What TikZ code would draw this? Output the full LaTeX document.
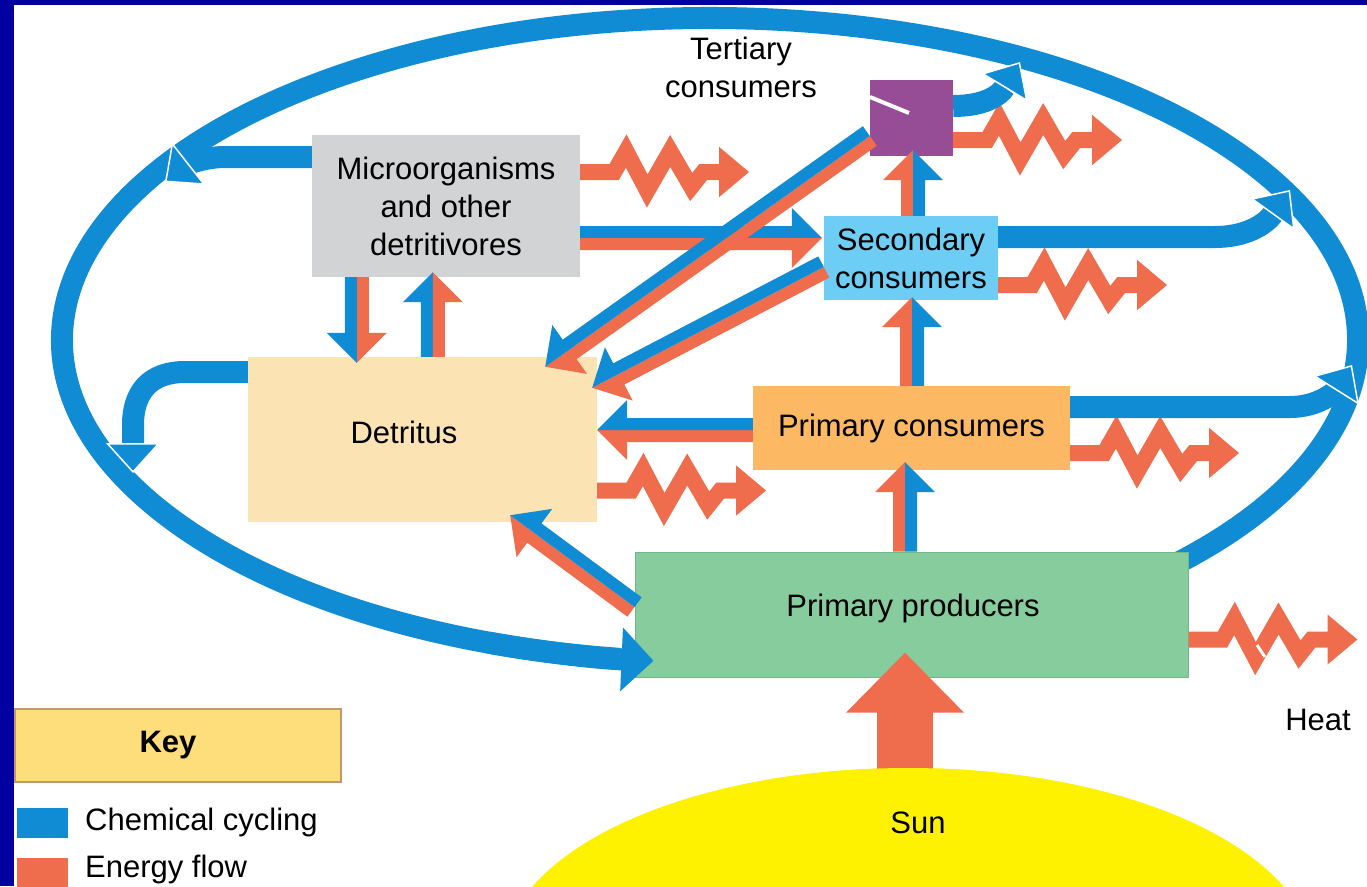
\documentclass[tikz,border=0pt]{standalone}
\usepackage{fontspec}
\setmainfont{Liberation Sans}
\usetikzlibrary{arrows.meta,calc,shapes.geometric}
\definecolor{navy}{RGB}{0,0,160}
\definecolor{chem}{RGB}{16,140,212}
\definecolor{enrg}{RGB}{239,108,77}
\definecolor{microc}{RGB}{209,211,212}
\definecolor{detc}{RGB}{252,227,180}
\definecolor{pconc}{RGB}{253,184,99}
\definecolor{secc}{RGB}{109,205,244}
\definecolor{terc}{RGB}{151,76,150}
\definecolor{prodc}{RGB}{134,204,156}
\definecolor{prodb}{RGB}{110,185,135}
\definecolor{keyc}{RGB}{253,222,122}
\definecolor{keyb}{RGB}{196,152,110}
\definecolor{sunc}{RGB}{255,242,0}
\tikzset{
  box/.style={draw=none, inner sep=0pt, align=center},
  ring/.style={draw=chem, line width=22pt},
  cyc/.style={draw=chem, line width=22pt, -{Triangle[length=30pt,width=54pt,color=white,fill=chem,line width=1.5pt]}},
  zz/.style={draw=enrg, line width=16pt, line join=miter, miter limit=10, -{Triangle[length=30pt,width=48pt]}},
  sunarrow/.style={draw=enrg, line width=56pt, -{Triangle[length=60pt,width=114pt]}},
  txt/.style={inner sep=0pt, align=center}
}
% dual arrow: #1 start, #2 tip, #3 colour on left side, #4 colour on right side
\newcommand{\duo}[4]{%
  \coordinate (duoA) at (#1);
  \coordinate (duoB) at (#2);
  \coordinate (duoC) at ($(duoB)!30pt!(duoA)$);
  \fill[#3] (duoA) -- ($(duoA)!12pt!90:(duoB)$) -- ($(duoC)!12pt!90:(duoB)$) -- ($(duoC)!30pt!90:(duoB)$) -- (duoB) -- cycle;
  \fill[#4] (duoA) -- ($(duoA)!12pt!-90:(duoB)$) -- ($(duoC)!12pt!-90:(duoB)$) -- ($(duoC)!30pt!-90:(duoB)$) -- (duoB) -- cycle;
}
\newcommand{\zig}[1]{\draw[zz] (#1) -- ++(34,0) -- ++(12,-21) -- ++(21,40) -- ++(23,-40) -- ++(21,36) -- ++(12,-15) -- ++(46,0);}
\begin{document}
\begin{tikzpicture}[x=1pt,y=-1pt, every node/.style={font=\fontsize{31}{38}\selectfont}]
\useasboundingbox (0,0) rectangle (1367,886);
\fill[navy] (0,0) rectangle (1367,886);
\fill[white] (14,5) rectangle (1367,886);

% ring (chemical cycling loop)
\coordinate (ringc) at (710,340);
\draw[ring] (ringc) ++(-55:648pt and 322pt) arc[start angle=-55, end angle=262, x radius=648pt, y radius=322pt];

% boxes
\node[box, fill=microc, minimum width=268pt, minimum height=142pt] (micro) at (446,206) {Microorganisms\\and other\\detritivores};
\node[box, fill=detc, minimum width=349pt, minimum height=165pt] (detritus) at (422.5,439.5) {};
\node[box, fill=pconc, minimum width=317pt, minimum height=84pt] (pcons) at (911.5,428) {Primary consumers};
\node[box, fill=secc, minimum width=174pt, minimum height=84pt] (sec) at (911,258) {Secondary\\consumers};
\node[box, fill=terc, minimum width=83pt, minimum height=76pt] (ter) at (911.5,118) {};
\node[box, fill=prodc, draw=prodb, line width=1pt, minimum width=553pt, minimum height=125pt] (prod) at (911.5,614.5) {};
\node[txt] (prodtext) at (913,608) {Primary producers};
\node[txt] (dettext) at (404,432) {Detritus};
\node[txt] (terlabel) at (741,67) {Tertiary\\consumers};

% sun and its arrow
\begin{scope}
\clip (14,5) rectangle (1367,886);
\node[ellipse, fill=sunc, inner sep=0pt, minimum width=810pt, minimum height=380pt] (sun) at (908,958) {};
\end{scope}
\draw[sunarrow] ($(sun.north)+(-3,8)$) -- ($(prod.south)+(-6.5,-25)$);
\begin{scope}
\clip (14,5) rectangle (1367,886);
\fill[sunc] (sun.center) ellipse [x radius=405pt, y radius=190pt];
\end{scope}
\node[txt] (sunlabel) at (918,823) {Sun};

% ring end into primary producers
\draw[ring, -{Triangle[length=32pt,width=62pt]}] (ringc) ++(250:648pt and 322pt) arc[start angle=250, end angle=265, x radius=648pt, y radius=322pt];

% heat (zigzag) arrows
\zig{$(micro.east)+(0,-34)$}
\zig{$(ter.east)+(0,22)$}
\zig{$(sec.east)+(0,27)$}
\zig{$(pcons.east)+(0,25)$}
\zig{$(detritus.east)+(0,51)$}
\zig{$(prod.east)+(0,25)$}

% paired arrows (chemical + energy)
\duo{$(micro.east)+(0,32)$}{$(sec.west)+(-2,-20)$}{chem}{enrg}
\duo{$(micro.south west)+(45,0)$}{$(detritus.north west)+(109,6)$}{enrg}{chem}
\duo{$(detritus.north west)+(185,0)$}{$(micro.south west)+(121,-5)$}{chem}{enrg}
\duo{$(ter.west)+(0,18)$}{$(detritus.north east)+(-52,10)$}{enrg}{chem}
\duo{$(sec.west)+(0,9)$}{$(detritus.north east)+(-5,31)$}{enrg}{chem}
\duo{$(pcons.west)+(0,2)$}{$(detritus.east)+(0,-9.5)$}{enrg}{chem}
\duo{$(sec.north)+(2,0)$}{$(ter.south)+(1.5,-6)$}{enrg}{chem}
\duo{$(pcons.north)+(0.5,0)$}{$(sec.south)+(1,-3)$}{enrg}{chem}
\duo{$(prod.north)+(-6.5,0)$}{$(pcons.south)+(-6.5,-8)$}{enrg}{chem}
\duo{$(prod.west)+(0,-7.5)$}{$(detritus.south east)+(-87,-7)$}{enrg}{chem}

% chemical cycling back to the ring
\coordinate (r1) at (165,182);
\coordinate (r2) at (133,473);
\coordinate (r3) at (1020,62);
\coordinate (r4) at (1290,190);
\coordinate (r5) at (1352,365);
\draw[cyc] ($(micro.west)+(0,-49)$) -- (225,157) .. controls (205,157) and (188,164) .. (r1);
\draw[cyc] ($(detritus.west)+(0,-67.5)$) -- (185,372) .. controls (150,372) and (133,392) .. (133,425) -- (r2);
\draw[cyc] ($(ter.east)+(0,-12)$) .. controls (985,106) and (1000,95) .. (r3);
\draw[cyc] ($(sec.east)+(0,-21)$) -- (1215,237) .. controls (1245,237) and (1265,225) .. (r4);
\draw[cyc] ($(pcons.east)+(0,-21)$) -- (1290,407) .. controls (1318,407) and (1335,392) .. (r5);

% small white marks
\draw[white, line width=4pt] (870,97) -- (909,113);
\draw[white, line width=3pt] (1257,645) -- (1265,657);

\node[txt] (heat) at (1318,720) {Heat};

% key
\node[box, fill=keyc, draw=keyb, line width=2.5pt, minimum width=326pt, minimum height=73pt] (key) at (178,745.5) {};
\node[txt] (keytext) at (168,745) {\bfseries Key};
\node[box, fill=chem, minimum width=51pt, minimum height=30pt] (legchem) at (42.5,823) {};
\node[box, fill=enrg, minimum width=51pt, minimum height=32pt] (legen) at (42.5,874) {};
\node[txt, anchor=west] (legchemt) at (85,822) {Chemical cycling};
\node[txt, anchor=west] (legent) at (85,869) {Energy flow};
\end{tikzpicture}
\end{document}
